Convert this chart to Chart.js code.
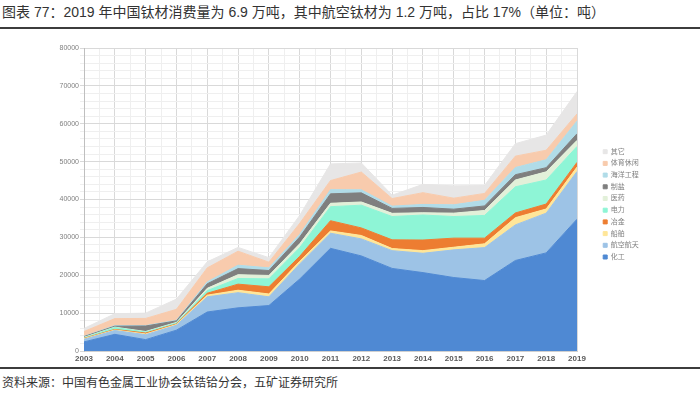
<!DOCTYPE html>
<html>
<head>
<meta charset="utf-8">
<script src="https://cdn.jsdelivr.net/npm/chart.js@4.4.0/dist/chart.umd.min.js"></script>
<style>
  html, body { margin: 0; padding: 0; background: #fff; }
  body { width: 700px; height: 393px; position: relative; overflow: hidden;
         font-family: "Liberation Sans", "Noto Sans CJK SC", sans-serif; }
  #title { position: absolute; left: 2px; top: 1px; font-size: 14px; color: #333; white-space: nowrap; }
  #topline { position: absolute; left: 0; top: 27px; width: 700px; height: 2px; background: #3c3c3c; }
  #botline { position: absolute; left: 0; top: 367px; width: 700px; height: 2px; background: #3c3c3c; }
  #source { position: absolute; left: 2px; top: 373px; font-size: 12px; color: #333; white-space: nowrap; }
  #wrap { position: absolute; left: 0; top: 30px; width: 700px; height: 336px; }
</style>
</head>
<body>
<div id="title">图表 77：2019 年中国钛材消费量为 6.9 万吨，其中航空钛材为 1.2 万吨，占比 17%（单位：吨）</div>
<div id="topline"></div>
<div id="wrap"><canvas id="c"></canvas></div>
<div id="botline"></div>
<div id="source">资料来源：中国有色金属工业协会钛锆铪分会，五矿证券研究所</div>
<script>
const years = [2003,2004,2005,2006,2007,2008,2009,2010,2011,2012,2013,2014,2015,2016,2017,2018,2019];
const yTicks = [0,10000,20000,30000,40000,50000,60000,70000,80000];

const huagong   = [2400,4400,3000,5500,10300,11400,12000,19000,27100,25100,21800,20700,19400,18600,23900,25900,34800];
const hangkong  = [700,1000,1300,1300,4000,4000,2300,4000,4000,4500,4700,5100,7300,8700,9400,10500,12600];
const chuanbo   = [150,150,200,200,450,650,750,700,600,900,550,700,700,1000,1900,1100,1150];
const yejin     = [100,150,250,150,500,1600,1900,1300,2700,2000,2300,2800,2400,1500,1250,1300,1250];
const dianli    = [150,500,250,250,700,1500,2100,2300,3700,6000,6150,6600,5700,6000,6900,6350,4200];
const yiyao     = [100,100,150,150,600,1000,900,1000,900,850,850,600,900,1300,1800,2150,1600];
const zhiyan    = [200,250,1450,400,1200,1600,1300,1800,2500,2400,1300,1400,1050,1200,1400,1100,1750];
const haiyang   = [100,150,100,150,500,900,700,700,1100,800,600,800,1150,1500,1900,2100,3350];
const tiyu      = [1250,1850,1900,2900,3700,3700,1500,2900,2400,4700,2000,3100,1750,1800,3000,2500,1900];
const qita      = [800,1300,1400,2700,1600,1000,1200,2100,4400,2400,900,2200,3250,2100,3300,4000,5900];

const seriesNames = ['化工','航空航天','船舶','冶金','电力','医药','制盐','海洋工程','体育休闲','其它'];
const seriesData = [huagong,hangkong,chuanbo,yejin,dianli,yiyao,zhiyan,haiyang,tiyu,qita];
const seriesColors = ['#4f89d3','#9dc3e6','#ffe699','#ed7d31','#8ef5d6','#e2f0d9','#7f7f7f','#b1dce8','#f8cbad','#e7e6e6'];

const datasets = seriesNames.map((name, k) => ({
  label: name,
  data: years.map((yr, i) => ({x: yr, y: seriesData[k][i]})),
  backgroundColor: seriesColors[k],
  borderColor: seriesColors[k],
  borderWidth: 1,
  pointRadius: 0,
  pointHoverRadius: 0,
  tension: 0,
  fill: k === 0 ? 'origin' : '-1'
}));

const legendPlace = {
  id: 'legendPlace',
  beforeDraw(chart) {
    const lg = chart.legend;
    if (lg) {
      lg.left = 598.5;
      lg.right = 700;
      lg.top = 113.5;
      lg.bottom = chart.chartArea.bottom;
    }
  }
};

const FONT = '"Liberation Sans", "Noto Sans CJK SC", sans-serif';

new Chart(document.getElementById('c'), {
  type: 'line',
  data: { datasets },
  plugins: [legendPlace],
  options: {
    responsive: true,
    maintainAspectRatio: false,
    animation: false,
    layout: { padding: { top: 18, right: 72.8, bottom: 0, left: 0 } },
    plugins: {
      tooltip: { enabled: false },
      legend: {
        position: 'right',
        align: 'start',
        reverse: true,
        labels: {
          boxWidth: 4, boxHeight: 4, padding: 4.7,
          color: '#7f7f7f',
          font: { size: 7, family: FONT }
        }
      }
    },
    scales: {
      x: {
        type: 'linear',
        min: 2003, max: 2019,
        afterFit: s => { s.height = 15; },
        ticks: {
          stepSize: 0.5, autoSkip: false, maxRotation: 0, padding: 3,
          color: '#595959',
          font: { size: 8, weight: 'bold', family: FONT },
          callback: v => Number.isInteger(v) && years.includes(v) ? String(v) : ''
        },
        grid: {
          drawTicks: false,
          color: ctx => (ctx.tick && Number.isInteger(ctx.tick.value)) ? '#d9d9d9' : '#efefef'
        },
        border: { display: true, color: '#d0d0d0' }
      },
      y: {
        stacked: true,
        min: 0, max: 80000,
        afterFit: s => { s.width = 84; },
        ticks: {
          stepSize: 2000, autoSkip: false, padding: 1,
          color: '#808080',
          font: { size: 7, family: FONT },
          callback: v => yTicks.includes(v) ? String(v) : ''
        },
        grid: {
          tickLength: 4,
          color: ctx => (ctx.tick && ctx.tick.value % 10000 === 0) ? '#d9d9d9' : '#efefef'
        },
        border: { display: true, color: '#bfbfbf' }
      }
    }
  }
});
</script>
</body>
</html>
